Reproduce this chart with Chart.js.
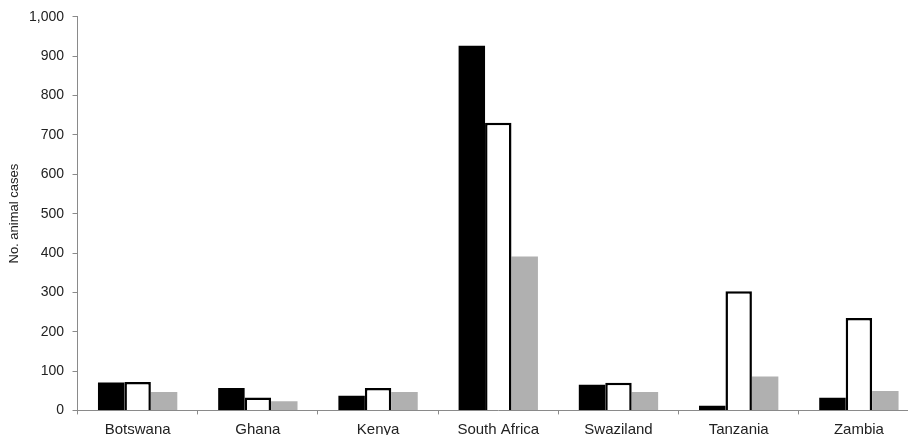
<!DOCTYPE html>
<html>
<head>
<meta charset="utf-8">
<script src="https://cdn.jsdelivr.net/npm/chart.js@4.4.1/dist/chart.umd.min.js"></script>
<style>
  html, body { margin: 0; padding: 0; background: #fff; overflow: hidden; }
  /* rộng hơn cửa sổ: cột Zambia bị cắt như ảnh gốc */
  #wrap { width: 925px; height: 445px; }
</style>
</head>
<body>
<div id="wrap"><canvas id="myChart"></canvas></div>
<script>
// Số liệu
const countries = ['Botswana', 'Ghana', 'Kenya', 'South Africa', 'Swaziland', 'Tanzania', 'Zambia'];
const seriesBlack = [71, 57, 37, 927, 65, 12, 32];
const seriesWhite = [72, 33, 57, 731, 70, 303, 235];
const seriesGray = [47, 23, 47, 391, 47, 86, 49];

const axisColor = '#8a8a8a';
const fontFamily = '"Liberation Sans", Arial, sans-serif';

var ctx = document.getElementById('myChart').getContext('2d');
var myChart = new Chart(ctx, {
  type: 'bar',
  data: {
    labels: countries,
    datasets: [
      {
        data: seriesBlack,
        backgroundColor: '#000000',
        borderWidth: 0
      },
      {
        data: seriesWhite,
        backgroundColor: '#ffffff',
        borderColor: '#000000',
        borderWidth: 2.5
      },
      {
        data: seriesGray,
        backgroundColor: '#b0b0b0',
        borderWidth: 0
      }
    ]
  },
  options: {
    responsive: true,
    maintainAspectRatio: false,
    animation: false,
    layout: { padding: { top: 10, right: 6, left: 2, bottom: 0 } },
    plugins: {
      legend: { display: false },
      tooltip: { enabled: false }
    },
    datasets: {
      bar: { barPercentage: 1, categoryPercentage: 0.66 }
    },
    scales: {
      x: {
        grid: {
          drawOnChartArea: false,
          drawTicks: true,
          tickLength: 4,
          color: axisColor
        },
        border: { display: true, color: axisColor, width: 1 },
        ticks: {
          color: '#222',
          padding: 6.3,
          font: { family: fontFamily, size: 15 }
        }
      },
      y: {
        min: 0,
        max: 1000,
        grid: {
          drawOnChartArea: false,
          drawTicks: true,
          tickLength: 5,
          color: axisColor
        },
        border: { display: true, color: axisColor, width: 1 },
        ticks: {
          stepSize: 100,
          color: '#222',
          padding: 8.5,
          font: { family: fontFamily, size: 14 },
          callback: function (v) { return v.toLocaleString('en-US'); }
        },
        title: {
          display: true,
          text: 'No. animal cases',
          color: '#222',
          padding: { top: 5.5, bottom: 0 },
          font: { family: fontFamily, size: 13, lineHeight: 1 }
        }
      }
    }
  }
});
</script>
</body>
</html>
